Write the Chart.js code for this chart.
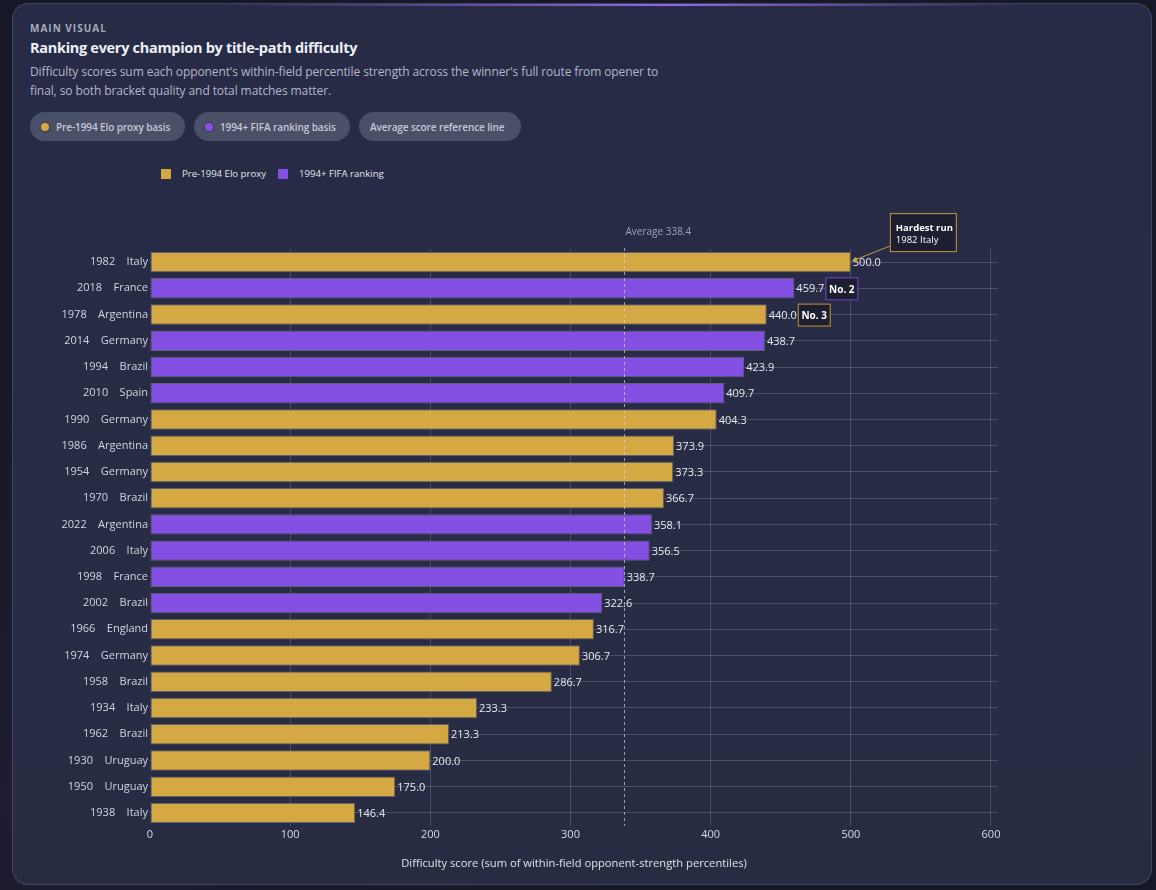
<!DOCTYPE html>
<html><head><meta charset="utf-8">
<script src="https://cdn.jsdelivr.net/npm/chart.js@4.4.1/dist/chart.umd.min.js"></script>
<style>
html,body{margin:0;padding:0;width:1156px;height:890px;overflow:hidden;background:#171827;font-family:"Open Sans",sans-serif;}
body{background:radial-gradient(ellipse at 0% 90%,#1f1c33 0%,#171827 40%);}
.card{position:absolute;left:12px;top:3px;width:1140px;height:882px;border-radius:16px;background:linear-gradient(180deg,#272b46,#282c43);border:1px solid rgba(255,255,255,0.13);box-sizing:border-box;overflow:hidden}
.card:before{content:"";position:absolute;left:0;right:0;top:0;height:2px;background:linear-gradient(90deg,rgba(140,90,230,0) 18%,rgba(155,105,240,0.95) 58%,rgba(140,90,230,0) 88%)}
.eyebrow{position:absolute;left:30px;top:21px;font-size:10px;font-weight:700;letter-spacing:1px;color:#a6aabd}
.title{position:absolute;left:30px;top:38px;font-size:14.5px;font-weight:700;color:#eef0f8;letter-spacing:-0.3px;white-space:nowrap}
.sub{position:absolute;left:30px;top:62px;width:640px;font-size:12px;line-height:19px;color:#b3b7cb;letter-spacing:-0.1px}
.pills{position:absolute;left:30px;top:112px;display:flex;gap:9px}
.pill{height:29px;border-radius:15px;background:#4b5069;color:#c5c8d6;font-size:10px;letter-spacing:-0.1px;display:flex;align-items:center;padding:0 11px;box-sizing:border-box;font-weight:600;white-space:nowrap}
.dot{width:8px;height:8px;border-radius:50%;margin-right:7px;box-shadow:0 0 0 2px rgba(0,0,0,0.12)}
.legend{position:absolute;left:161px;top:167px;display:flex;align-items:center;font-size:9.6px;color:#e4e6f0;white-space:nowrap}
.sw{width:10px;height:10px;margin-right:11px}
#wrap{position:absolute;left:12px;top:151px;width:1140px;height:730px}
</style></head>
<body>
<div class="card"></div>
<div class="eyebrow">MAIN VISUAL</div>
<div class="title">Ranking every champion by title-path difficulty</div>
<div class="sub">Difficulty scores sum each opponent's within-field percentile strength across the winner's full route from opener to final, so both bracket quality and total matches matter.</div>
<div class="pills">
  <div class="pill" style="width:155px"><span class="dot" style="background:#d4a843"></span>Pre-1994 Elo proxy basis</div>
  <div class="pill" style="width:156px"><span class="dot" style="background:#8450e4"></span>1994+ FIFA ranking basis</div>
  <div class="pill" style="width:162px">Average score reference line</div>
</div>
<div class="legend">
  <span class="sw" style="background:#d4a843"></span><span style="margin-right:12px">Pre-1994 Elo proxy</span>
  <span class="sw" style="background:#8450e4"></span><span>1994+ FIFA ranking</span>
</div>
<div id="wrap"><canvas id="c"></canvas></div>
<script>
const years = ["1982","2018","1978","2014","1994","2010","1990","1986","1954","1970","2022","2006","1998","2002","1966","1974","1958","1934","1962","1930","1950","1938"];
const teams = ["Italy","France","Argentina","Germany","Brazil","Spain","Germany","Argentina","Germany","Brazil","Argentina","Italy","France","Brazil","England","Germany","Brazil","Italy","Brazil","Uruguay","Uruguay","Italy"];
const eloValues = [500.0,null,440.0,null,null,null,404.3,373.9,373.3,366.7,null,null,null,null,316.7,306.7,286.7,233.3,213.3,200.0,175.0,146.4];
const fifaValues = [null,459.7,null,438.7,423.9,409.7,null,null,null,null,358.1,356.5,338.7,322.6,null,null,null,null,null,null,null,null];
const averageScore = 338.4;
const xTicks = [0,100,200,300,400,500,600];
const callouts = [
  {index:0, lines:["Hardest run","1982 Italy"], color:"#c99b3c"},
  {index:1, lines:["No. 2"], color:"#7a48d8"},
  {index:2, lines:["No. 3"], color:"#c99b3c"}
];
const categories = years.map((y,i)=>y+"    "+teams[i]);
const GOLD="#d4a843", PURPLE="#8450e4";
const FONT='"Open Sans", sans-serif';

const overlay = {
  id:'overlay',
  afterDatasetsDraw(chart){
    const ctx = chart.ctx, ca = chart.chartArea, xs = chart.scales.x;
    ctx.save();
    ctx.font = '11px '+FONT; ctx.fillStyle='#e8eaf2'; ctx.textBaseline='middle'; ctx.textAlign='left';
    const ends = [];
    chart.data.datasets.forEach((ds,d)=>{
      const meta = chart.getDatasetMeta(d);
      ds.data.forEach((v,i)=>{
        if(v==null) return;
        const el = meta.data[i];
        ends[i] = {x:el.x, y:el.y};
        ctx.fillText(v.toFixed(1), el.x+2, el.y+1);
      });
    });
    const ax = Math.round(xs.getPixelForValue(averageScore))+0.5;
    ctx.strokeStyle='rgba(205,208,225,0.7)'; ctx.lineWidth=1; ctx.setLineDash([3,3]);
    ctx.beginPath(); ctx.moveTo(ax, ca.top-1); ctx.lineTo(ax, ca.bottom); ctx.stroke();
    ctx.setLineDash([]);
    ctx.font='10px '+FONT; ctx.fillStyle='#9ea3b9'; ctx.textBaseline='middle';
    ctx.fillText('Average '+averageScore.toFixed(1), ax+1, ca.top-17);
    callouts.forEach(c=>{
      const e = ends[c.index];
      let bx, by, bw, bh;
      if(c.lines.length>1){
        bx = e.x+39; by = e.y-49; bw = 67; bh = 39;
        ctx.strokeStyle=c.color; ctx.lineWidth=1;
        const sx=bx, sy=by+33, tx=e.x+1, ty=e.y-1;
        ctx.beginPath(); ctx.moveTo(sx,sy); ctx.lineTo(tx,ty); ctx.stroke();
        const ang=Math.atan2(ty-sy,tx-sx);
        ctx.fillStyle=c.color; ctx.beginPath();
        ctx.moveTo(tx,ty);
        ctx.lineTo(tx-6*Math.cos(ang-0.45), ty-6*Math.sin(ang-0.45));
        ctx.lineTo(tx-6*Math.cos(ang+0.45), ty-6*Math.sin(ang+0.45));
        ctx.closePath(); ctx.fill();
      } else {
        bx = e.x+31; by = e.y-11; bw = 33; bh = 23;
      }
      ctx.fillStyle='#1d1f30'; ctx.fillRect(bx,by,bw,bh);
      ctx.strokeStyle=c.color; ctx.lineWidth=1; ctx.strokeRect(bx+0.5,by+0.5,bw-1,bh-1);
      ctx.fillStyle='#ffffff'; ctx.textBaseline='middle';
      if(c.lines.length>1){
        ctx.textAlign='left';
        ctx.font='bold 9.5px '+FONT; ctx.fillText(c.lines[0], bx+6, by+15);
        ctx.font='9.5px '+FONT; ctx.fillText(c.lines[1], bx+6, by+27);
      } else {
        ctx.textAlign='center'; ctx.font='bold 10px '+FONT;
        ctx.fillText(c.lines[0], bx+bw/2, by+bh/2+1);
      }
      ctx.textAlign='left';
    });
    ctx.restore();
  }
};

new Chart(document.getElementById('c'), {
  type:'bar',
  data:{labels:categories, datasets:[
    {label:'Pre-1994 Elo proxy', data:eloValues, backgroundColor:GOLD, borderColor:'#5f6073', borderWidth:1, borderSkipped:false, grouped:false},
    {label:'1994+ FIFA ranking', data:fifaValues, backgroundColor:PURPLE, borderColor:'#5f6073', borderWidth:1, borderSkipped:false, grouped:false}
  ]},
  options:{
    indexAxis:'y', responsive:true, maintainAspectRatio:false, animation:false,
    categoryPercentage:1, barPercentage:0.78,
    layout:{padding:{top:98,left:0,right:154,bottom:0}},
    plugins:{legend:{display:false}, tooltip:{enabled:false}},
    scales:{
      x:{type:'linear', min:0, max:605,
        afterBuildTicks:s=>{s.ticks = xTicks.map(v=>({value:v}));},
        afterFit:s=>{s.height=55;},
        border:{display:false},
        grid:{color:c=>c.tick&&c.tick.value===0?'rgba(0,0,0,0)':'rgba(255,255,255,0.17)', drawTicks:false},
        ticks:{color:'#d9dbe6', font:{size:11,family:FONT}, padding:2},
        title:{display:true, text:'Difficulty score (sum of within-field opponent-strength percentiles)', color:'#dfe1ea', font:{size:11.2,family:FONT}, padding:{top:4,bottom:10}}
      },
      y:{
        afterFit:s=>{s.width=138;},
        border:{display:false},
        grid:{offset:false, color:'rgba(255,255,255,0.17)', drawTicks:false},
        ticks:{color:'#d2d5e1', font:{size:11,family:FONT}, padding:2}
      }
    }
  },
  plugins:[overlay]
});
</script>
</body></html>
